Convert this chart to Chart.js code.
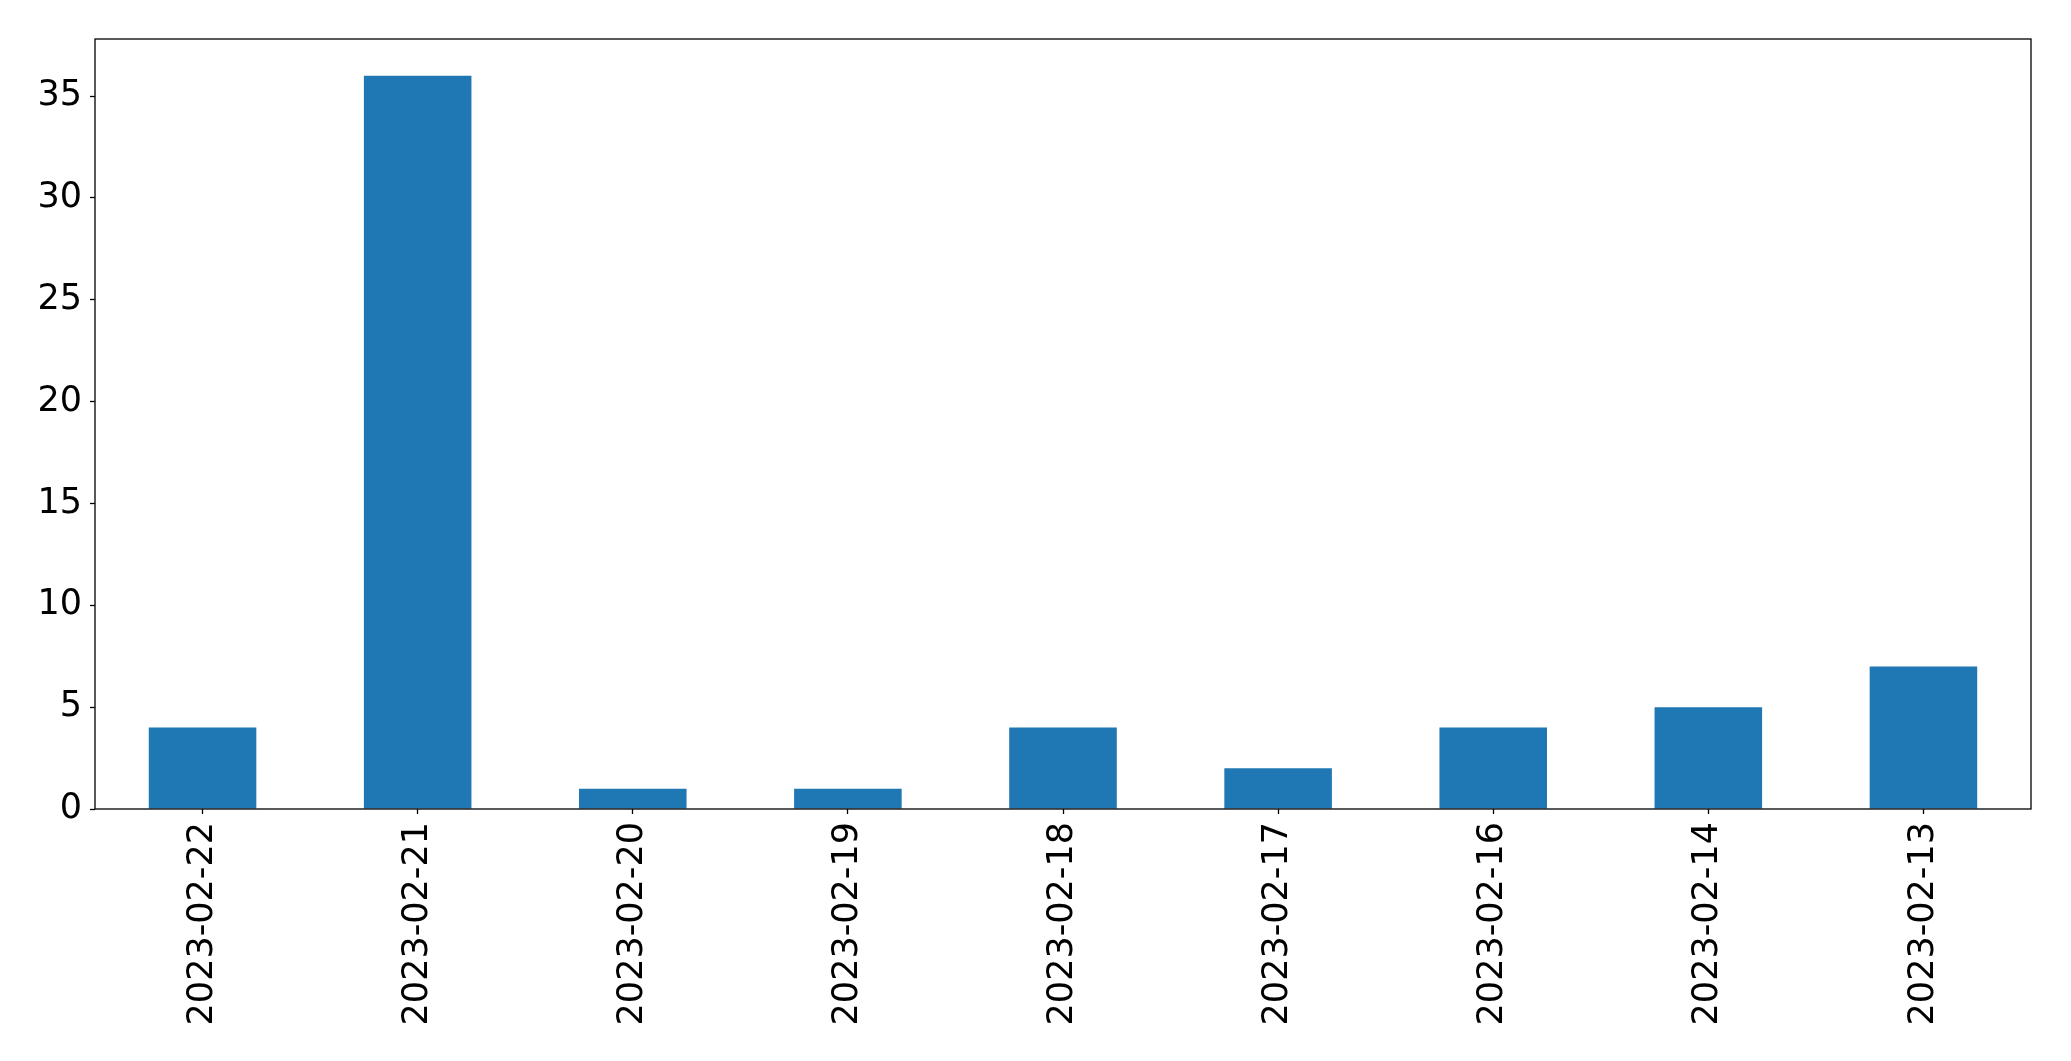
<!DOCTYPE html>
<html>
<head>
<meta charset="utf-8">
<script src="https://cdn.jsdelivr.net/npm/chart.js@4"></script>
<style>
  body { margin: 0; background: #fff; }
</style>
</head>
<body>
<canvas id="myChart1" width="2071" height="1061"></canvas>
<script>
const dates = ['2023-02-22', '2023-02-21', '2023-02-20', '2023-02-19', '2023-02-18',
               '2023-02-17', '2023-02-16', '2023-02-14', '2023-02-13']
const counts = [4, 36, 1, 1, 4, 2, 4, 5, 7]
const yTicks = [0, 5, 10, 15, 20, 25, 30, 35]

// draws the box round the plot like matplotlib does
const frame = {
    id: 'frame',
    afterDraw(chart) {
        const a = chart.chartArea
        const c = chart.ctx
        c.save()
        c.strokeStyle = 'black'
        c.lineWidth = 1.3
        c.strokeRect(a.left, a.top, a.right - a.left, a.bottom - a.top)
        c.restore()
    }
}

const ctx = document.getElementById('myChart1').getContext('2d')
const chart = new Chart(ctx, {
    type: 'bar',
    data: {
        labels: dates,
        datasets: [{
            data: counts,
            backgroundColor: '#1f77b4',
            borderWidth: 0,
            categoryPercentage: 0.5,
            barPercentage: 1.0
        }]
    },
    options: {
        responsive: false,
        animation: false,
        devicePixelRatio: 1,
        layout: { padding: { left: 0, top: 39, right: 40, bottom: 0 } },
        plugins: { legend: { display: false }, tooltip: { enabled: false } },
        scales: {
            x: {
                offset: true,
                grid: { offset: false, drawOnChartArea: false, color: 'black', tickLength: 5, tickWidth: 1.3 },
                border: { display: false },
                ticks: {
                    color: 'black',
                    font: { family: 'DejaVu Sans', size: 35 },
                    minRotation: 90,
                    maxRotation: 90,
                    autoSkip: false,
                    padding: 8
                },
                afterFit: s => { s.height = 252 }
            },
            y: {
                min: 0,
                max: 37.8,
                grid: { drawOnChartArea: false, color: 'black', tickLength: 5, tickWidth: 1.3 },
                border: { display: false },
                ticks: {
                    color: 'black',
                    stepSize: 5,
                    font: { family: 'DejaVu Sans', size: 35 },
                    padding: 8
                },
                afterBuildTicks: s => { s.ticks = yTicks.map(v => ({ value: v })) },
                afterFit: s => { s.width = 95 }
            }
        }
    },
    plugins: [frame]
})
</script>
</body>
</html>
